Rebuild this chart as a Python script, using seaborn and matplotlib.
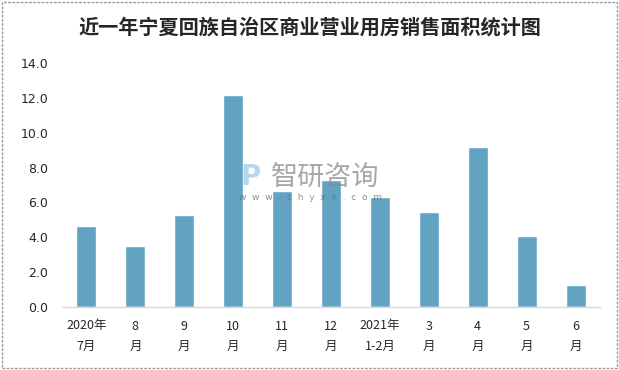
import matplotlib
matplotlib.use("Agg")
import matplotlib.pyplot as plt
import seaborn as sns
import pandas as pd
from matplotlib.patches import Rectangle

categories = ["2020年\n7月", "8\n月", "9\n月", "10\n月", "11\n月", "12\n月",
              "2021年\n1-2月", "3\n月", "4\n月", "5\n月", "6\n月"]
values = [4.65, 3.50, 5.28, 12.16, 6.65, 7.29, 6.31, 5.45, 9.18, 4.07, 1.26]
yticks = [0, 2, 4, 6, 8, 10, 12, 14]

sns.set_style("white")
plt.rcParams['font.family'] = ['Noto Sans CJK SC', 'DejaVu Sans']

df = pd.DataFrame({"cat": categories, "val": values})

fig = plt.figure(figsize=(6.19, 3.70), dpi=100)
ax = fig.add_axes([62/619, 1 - 307/370, (600-62)/619, (307-63)/370])
sns.barplot(data=df, x="cat", y="val", color="#62a3c4", saturation=1,
            width=0.41, ax=ax)
ax.set_ylim(0, 14)
ax.set_xlim(-0.5, len(categories) - 0.5)
ax.set_yticks(yticks)
ax.set_yticklabels([f"{t:.1f}" for t in yticks], fontsize=9, family='DejaVu Sans')
ax.tick_params(axis='y', length=0, pad=10)
ax.tick_params(axis='x', length=0, pad=9)
for lab in ax.get_xticklabels():
    lab.set_fontsize(9)
    lab.set_linespacing(1.75)
ax.set_xlabel("")
ax.set_ylabel("")
for s in ["top", "right", "left"]:
    ax.spines[s].set_visible(False)
ax.spines["bottom"].set_color("#d9d9d9")
ax.spines["bottom"].set_linewidth(1)

fig.text(0.5, 1 - 27/370, "近一年宁夏回族自治区商业营业用房销售面积统计图",
         ha="center", va="center", fontsize=14.5, fontweight="bold")

# watermark
fig.text(271/619, 1 - 177/370, "智研咨询", ha="left", va="center",
         fontsize=19.5, color="#8a8a8a", alpha=0.75)
fig.text(239/619, 1 - 198/370, "w  w  w  .  c  h  y  x  x  .  c  o  m", ha="left", va="center",
         fontsize=6.5, color="#6a6a6a", alpha=0.75, family='DejaVu Sans')
fig.text(251/619, 1 - 177/370, "P", ha="center", va="center",
         fontsize=20, color="#9cc6e4", alpha=0.7, fontweight="bold", family='DejaVu Sans')

fig.patches.append(Rectangle((2/619, 2/370), 1 - 4/619, 1 - 4/370,
                             transform=fig.transFigure, fill=False,
                             edgecolor="#9a9a9a", linestyle=(0, (2, 1)), linewidth=1))

fig.savefig("out.png", dpi=100)
